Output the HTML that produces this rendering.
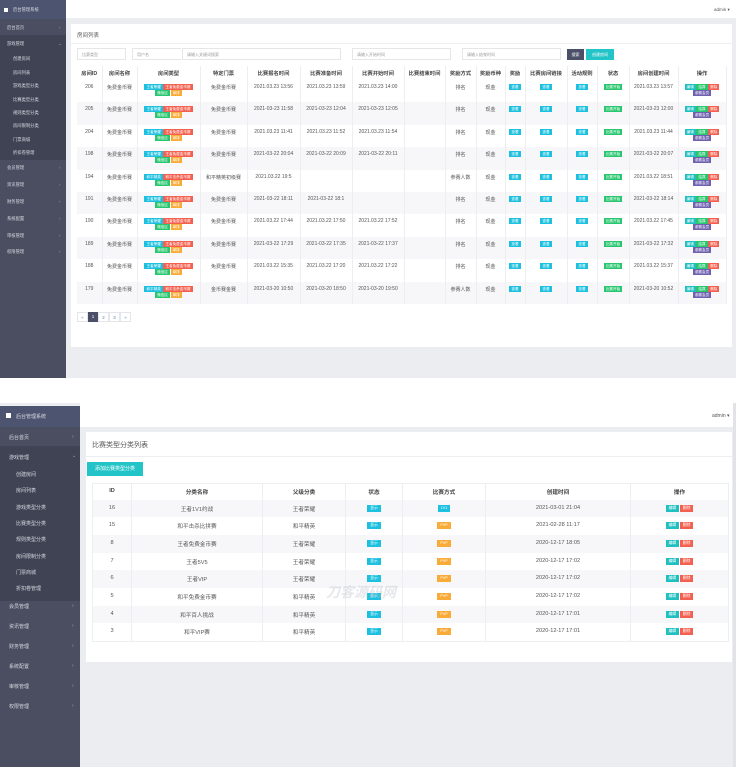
<!DOCTYPE html>
<html><head><meta charset="utf-8"><style>
*{margin:0;padding:0;box-sizing:border-box}
body{width:736px;height:767px;overflow:hidden;background:#fff;position:relative;font-family:"Liberation Sans","Noto Sans CJK SC",sans-serif;color:#555}
.abs{position:absolute}
.sb{background:#4a4e60;color:#d8dae2}
.sb div{position:absolute;white-space:nowrap}
.sub{background:#3f4354}
.arr{color:#aab}
table{border-collapse:collapse;table-layout:fixed;position:absolute}
td,th{text-align:center;vertical-align:top;border-right:1px solid #eceef2;white-space:nowrap;overflow:hidden}
th{color:#444;font-weight:bold}
.t1 td,.t1 th{font-size:5px;height:22.4px;padding-top:4px}
.t1 th{height:14px;padding-top:3px;font-size:5.3px}
.t1 tr:nth-child(odd) td{background:#f7f7f9}
.t1 tr:nth-child(even) td{background:#fff}
.tg{display:inline-block;font-size:3.6px;line-height:6px;height:6px;padding:0 2px;color:#fff;margin:0 .3px;vertical-align:top;font-weight:normal}
.c{background:#1ec0df}.r{background:#f4604f}.g{background:#28c76f}.o{background:#f9ab38}.p{background:#7060b0}.tl{background:#20c0c0}
.t2 td,.t2 th{font-size:5.6px;height:17.7px;padding-top:5px}
.t2 th{height:16px;padding-top:4px}
.t2 tr:nth-child(even) td{background:#f7f7f9}
.t2 tr:nth-child(odd) td{background:#fff}
.t2 .tg{font-size:3.8px;height:7px;line-height:7px;padding:0 3px}
.inp{position:absolute;height:12px;border:1px solid #e4e6ea;background:#fff;font-size:4px;color:#999;padding:3px 4px}
</style></head><body>

<!-- TOP SCREENSHOT -->
<div class="abs" style="left:0;top:0;width:736px;height:378px;background:#ecedf1"></div>
<div class="abs" style="left:66px;top:0;width:670px;height:18px;background:#fff"></div>
<div class="abs" style="left:714px;top:7px;font-size:4.5px;color:#555">admin ▾</div>
<div class="abs sb" style="left:0;top:0;width:66px;height:378px;font-size:4.3px">
 <div style="left:0;top:0;width:66px;height:19px;background:#4d5470"></div>
 <div style="left:4px;top:8px;width:4px;height:4px;background:#fff"></div>
 <div style="left:13px;top:7px">后台管理系统</div>
 <div style="left:7px;top:25px">后台首页</div><div class="arr" style="left:59px;top:25px">›</div>
 <div style="left:0;top:35px;width:66px;height:125px" class="sub"></div>
 <div style="left:7px;top:41px">游戏管理</div><div class="arr" style="left:58px;top:41px">⌄</div>
 <div style="left:13px;top:56px">创建房间</div>
 <div style="left:13px;top:70px">房间列表</div>
 <div style="left:13px;top:83px">游戏类型分类</div>
 <div style="left:13px;top:97px">比赛类型分类</div>
 <div style="left:13px;top:110px">规则类型分类</div>
 <div style="left:13px;top:123px">房间限制分类</div>
 <div style="left:13px;top:137px">门票商城</div>
 <div style="left:13px;top:150px">折扣卷管理</div>
 <div style="left:7px;top:165px">会员管理</div><div class="arr" style="left:59px;top:165px">›</div>
 <div style="left:7px;top:182px">资讯管理</div><div class="arr" style="left:59px;top:182px">›</div>
 <div style="left:7px;top:199px">财务管理</div><div class="arr" style="left:59px;top:199px">›</div>
 <div style="left:7px;top:216px">系统配置</div><div class="arr" style="left:59px;top:216px">›</div>
 <div style="left:7px;top:233px">审核管理</div><div class="arr" style="left:59px;top:233px">›</div>
 <div style="left:7px;top:249px">权限管理</div><div class="arr" style="left:59px;top:249px">›</div>
</div>
<div class="abs" style="left:71px;top:24px;width:661px;height:323px;background:#fff"></div>
<div class="abs" style="left:71px;top:43px;width:661px;height:1px;background:#eceef2"></div>
<div class="abs" style="left:77px;top:31px;font-size:5.5px;color:#555">房间列表</div>
<div class="inp" style="left:77px;top:48px;width:49px">比赛类型</div>
<div class="inp" style="left:132px;top:48px;width:49px;border-right:none">用户名</div>
<div class="inp" style="left:182px;top:48px;width:159px">请输入关键词搜索</div>
<div class="inp" style="left:352px;top:48px;width:99px">请输入开始时间</div>
<div class="inp" style="left:462px;top:48px;width:99px">请输入结束时间</div>
<div class="abs" style="left:567px;top:49px;width:17px;height:11px;background:#4b5068;color:#fff;font-size:4px;text-align:center;line-height:11px">搜索</div>
<div class="abs" style="left:586px;top:49px;width:28px;height:11px;background:#22c4c8;color:#fff;font-size:4px;text-align:center;line-height:11px">创建房间</div>

<table class="t1" style="left:77px;top:66px;width:649px">
<colgroup><col style="width:25px"><col style="width:35px"><col style="width:63px"><col style="width:47px"><col style="width:53px"><col style="width:52px"><col style="width:52px"><col style="width:41px"><col style="width:31px"><col style="width:29px"><col style="width:20px"><col style="width:42px"><col style="width:30px"><col style="width:32px"><col style="width:49px"><col style="width:48px"></colgroup>
<tr><th>房间ID</th><th>房间名称</th><th>房间类型</th><th>特定门票</th><th>比赛报名时间</th><th>比赛准备时间</th><th>比赛开始时间</th><th>比赛结束时间</th><th>奖励方式</th><th>奖励币种</th><th>奖励</th><th>比赛房间链接</th><th>活动规则</th><th>状态</th><th>房间创建时间</th><th>操作</th></tr>
<tr><td>206</td><td>免费金币赛</td><td><span class="tg c">王者荣耀</span><span class="tg r">王者免费金币赛</span><br><span class="tg g">微信区</span><span class="tg o">单排</span></td><td>免费金币赛</td><td>2021.03.23 13:56</td><td>2021.03.23 13:59</td><td>2021.03.23 14:00</td><td></td><td>排名</td><td>现金</td><td><span class="tg c">查看</span></td><td><span class="tg c">查看</span></td><td><span class="tg c">查看</span></td><td><span class="tg g">比赛开始</span></td><td>2021.03.23 13:57</td><td><span class="tg tl">编辑</span><span class="tg g">结算</span><span class="tg r">删除</span><br><span class="tg p">参赛会员</span></td></tr>
<tr><td>205</td><td>免费金币赛</td><td><span class="tg c">王者荣耀</span><span class="tg r">王者免费金币赛</span><br><span class="tg g">微信区</span><span class="tg o">单排</span></td><td>免费金币赛</td><td>2021-03-23 11:58</td><td>2021-03-23 12:04</td><td>2021-03-23 12:05</td><td></td><td>排名</td><td>现金</td><td><span class="tg c">查看</span></td><td><span class="tg c">查看</span></td><td><span class="tg c">查看</span></td><td><span class="tg g">比赛开始</span></td><td>2021-03-23 12:00</td><td><span class="tg tl">编辑</span><span class="tg g">结算</span><span class="tg r">删除</span><br><span class="tg p">参赛会员</span></td></tr>
<tr><td>204</td><td>免费金币赛</td><td><span class="tg c">王者荣耀</span><span class="tg r">王者免费金币赛</span><br><span class="tg g">微信区</span><span class="tg o">单排</span></td><td>免费金币赛</td><td>2021.03.23 11:41</td><td>2021.03.23 11:52</td><td>2021.03.23 11:54</td><td></td><td>排名</td><td>现金</td><td><span class="tg c">查看</span></td><td><span class="tg c">查看</span></td><td><span class="tg c">查看</span></td><td><span class="tg g">比赛开始</span></td><td>2021.03.23 11:44</td><td><span class="tg tl">编辑</span><span class="tg g">结算</span><span class="tg r">删除</span><br><span class="tg p">参赛会员</span></td></tr>
<tr><td>198</td><td>免费金币赛</td><td><span class="tg c">王者荣耀</span><span class="tg r">王者免费金币赛</span><br><span class="tg g">微信区</span><span class="tg o">单排</span></td><td>免费金币赛</td><td>2021-03-22 20:04</td><td>2021-03-22 20:09</td><td>2021-03-22 20:11</td><td></td><td>排名</td><td>现金</td><td><span class="tg c">查看</span></td><td><span class="tg c">查看</span></td><td><span class="tg c">查看</span></td><td><span class="tg g">比赛开始</span></td><td>2021-03-22 20:07</td><td><span class="tg tl">编辑</span><span class="tg g">结算</span><span class="tg r">删除</span><br><span class="tg p">参赛会员</span></td></tr>
<tr><td>194</td><td>免费金币赛</td><td><span class="tg c">和平精英</span><span class="tg r">和平击杀金币赛</span><br><span class="tg g">微信区</span><span class="tg o">单排</span></td><td>和平精英初级赛</td><td>2021.03.22 19:5</td><td></td><td></td><td></td><td>参赛人数</td><td>现金</td><td><span class="tg c">查看</span></td><td><span class="tg c">查看</span></td><td><span class="tg c">查看</span></td><td><span class="tg g">比赛开始</span></td><td>2021.03.22 18:51</td><td><span class="tg tl">编辑</span><span class="tg g">结算</span><span class="tg r">删除</span><br><span class="tg p">参赛会员</span></td></tr>
<tr><td>191</td><td>免费金币赛</td><td><span class="tg c">王者荣耀</span><span class="tg r">王者免费金币赛</span><br><span class="tg g">微信区</span><span class="tg o">单排</span></td><td>免费金币赛</td><td>2021-03-22 18:11</td><td>2021-03-22 18:1</td><td></td><td></td><td>排名</td><td>现金</td><td><span class="tg c">查看</span></td><td><span class="tg c">查看</span></td><td><span class="tg c">查看</span></td><td><span class="tg g">比赛开始</span></td><td>2021-03-22 18:14</td><td><span class="tg tl">编辑</span><span class="tg g">结算</span><span class="tg r">删除</span><br><span class="tg p">参赛会员</span></td></tr>
<tr><td>190</td><td>免费金币赛</td><td><span class="tg c">王者荣耀</span><span class="tg r">王者免费金币赛</span><br><span class="tg g">微信区</span><span class="tg o">单排</span></td><td>免费金币赛</td><td>2021.03.22 17:44</td><td>2021.03.22 17:50</td><td>2021.03.22 17:52</td><td></td><td>排名</td><td>现金</td><td><span class="tg c">查看</span></td><td><span class="tg c">查看</span></td><td><span class="tg c">查看</span></td><td><span class="tg g">比赛开始</span></td><td>2021.03.22 17:45</td><td><span class="tg tl">编辑</span><span class="tg g">结算</span><span class="tg r">删除</span><br><span class="tg p">参赛会员</span></td></tr>
<tr><td>189</td><td>免费金币赛</td><td><span class="tg c">王者荣耀</span><span class="tg r">王者免费金币赛</span><br><span class="tg g">微信区</span><span class="tg o">单排</span></td><td>免费金币赛</td><td>2021-03-22 17:29</td><td>2021-03-22 17:35</td><td>2021-03-22 17:37</td><td></td><td>排名</td><td>现金</td><td><span class="tg c">查看</span></td><td><span class="tg c">查看</span></td><td><span class="tg c">查看</span></td><td><span class="tg g">比赛开始</span></td><td>2021-03-22 17:32</td><td><span class="tg tl">编辑</span><span class="tg g">结算</span><span class="tg r">删除</span><br><span class="tg p">参赛会员</span></td></tr>
<tr><td>188</td><td>免费金币赛</td><td><span class="tg c">王者荣耀</span><span class="tg r">王者免费金币赛</span><br><span class="tg g">微信区</span><span class="tg o">单排</span></td><td>免费金币赛</td><td>2021.03.22 15:35</td><td>2021.03.22 17:20</td><td>2021.03.22 17:22</td><td></td><td>排名</td><td>现金</td><td><span class="tg c">查看</span></td><td><span class="tg c">查看</span></td><td><span class="tg c">查看</span></td><td><span class="tg g">比赛开始</span></td><td>2021.03.22 15:37</td><td><span class="tg tl">编辑</span><span class="tg g">结算</span><span class="tg r">删除</span><br><span class="tg p">参赛会员</span></td></tr>
<tr><td>179</td><td>免费金币赛</td><td><span class="tg c">和平精英</span><span class="tg r">和平击杀金币赛</span><br><span class="tg g">微信区</span><span class="tg o">单排</span></td><td>金币赛金赛</td><td>2021-03-20 10:50</td><td>2021-03-20 18:50</td><td>2021-03-20 19:50</td><td></td><td>参赛人数</td><td>现金</td><td><span class="tg c">查看</span></td><td><span class="tg c">查看</span></td><td><span class="tg c">查看</span></td><td><span class="tg g">比赛开始</span></td><td>2021-03-20 10:52</td><td><span class="tg tl">编辑</span><span class="tg g">结算</span><span class="tg r">删除</span><br><span class="tg p">参赛会员</span></td></tr>
</table>
<div class="abs" style="left:77px;top:312px;height:10px;display:flex;font-size:4.5px;line-height:9px;text-align:center">
 <div style="width:11px;border:1px solid #e4e6ea;color:#888">«</div>
 <div style="width:10px;background:#4b5068;color:#fff">1</div>
 <div style="width:11px;border:1px solid #e4e6ea;color:#58a">2</div>
 <div style="width:11px;border:1px solid #e4e6ea;color:#58a">3</div>
 <div style="width:11px;border:1px solid #e4e6ea;color:#58a">»</div>
</div>

<!-- BOTTOM SCREENSHOT -->
<div class="abs" style="left:0;top:403px;width:736px;height:364px;background:#ecedf1"></div>
<div class="abs" style="left:80px;top:403px;width:656px;height:24px;background:#fff"></div>
<div class="abs" style="left:712px;top:413px;font-size:5px;color:#555">admin ▾</div>
<div class="abs sb" style="left:0;top:406px;width:80px;height:361px;font-size:5px">
 <div style="left:0;top:0;width:80px;height:21px;background:#4d5470"></div>
 <div style="left:6px;top:7px;width:5px;height:5px;background:#fff"></div>
 <div style="left:16px;top:7px">后台管理系统</div>
 <div style="left:9px;top:28px">后台首页</div><div class="arr" style="left:72px;top:28px">›</div>
 <div class="sub" style="left:0;top:40px;width:80px;height:155px"></div>
 <div style="left:9px;top:48px">游戏管理</div><div class="arr" style="left:72px;top:47px">⌄</div>
 <div style="left:16px;top:65px">创建房间</div>
 <div style="left:16px;top:81px">房间列表</div>
 <div style="left:16px;top:98px">游戏类型分类</div>
 <div style="left:16px;top:114px">比赛类型分类</div>
 <div style="left:16px;top:130px">规则类型分类</div>
 <div style="left:16px;top:147px">房间限制分类</div>
 <div style="left:16px;top:163px">门票商城</div>
 <div style="left:16px;top:179px">折扣卷管理</div>
 <div style="left:9px;top:197px">会员管理</div><div class="arr" style="left:72px;top:197px">›</div>
 <div style="left:9px;top:217px">资讯管理</div><div class="arr" style="left:72px;top:217px">›</div>
 <div style="left:9px;top:237px">财务管理</div><div class="arr" style="left:72px;top:237px">›</div>
 <div style="left:9px;top:257px">系统配置</div><div class="arr" style="left:72px;top:257px">›</div>
 <div style="left:9px;top:277px">审核管理</div><div class="arr" style="left:72px;top:277px">›</div>
 <div style="left:9px;top:297px">权限管理</div><div class="arr" style="left:72px;top:297px">›</div>
</div>
<div class="abs" style="left:86px;top:432px;width:646px;height:230px;background:#fff"></div>
<div class="abs" style="left:86px;top:456px;width:646px;height:1px;background:#eceef2"></div>
<div class="abs" style="left:92px;top:440px;font-size:7px;color:#555">比赛类型分类列表</div>
<div class="abs" style="left:87px;top:462px;width:56px;height:14px;background:#22c4c8;color:#fff;font-size:5px;line-height:14px;text-align:center">添加比赛类型分类</div>
<table class="t2" style="left:92px;top:483px;width:636px;border:1px solid #eceef2">
<colgroup><col style="width:39px"><col style="width:131px"><col style="width:83px"><col style="width:57px"><col style="width:83px"><col style="width:145px"><col style="width:98px"></colgroup>
<tr><th>ID</th><th>分类名称</th><th>父级分类</th><th>状态</th><th>比赛方式</th><th>创建时间</th><th>操作</th></tr>
<tr><td>16</td><td>王者1V1约战</td><td>王者荣耀</td><td><span class="tg c">显示</span></td><td><span class="tg c">1V1</span></td><td>2021-03-01 21:04</td><td><span class="tg tl">编辑</span><span class="tg r">删除</span></td></tr>
<tr><td>15</td><td>和平击杀比拼赛</td><td>和平精英</td><td><span class="tg c">显示</span></td><td><span class="tg o">PVP</span></td><td>2021-02-28 11:17</td><td><span class="tg tl">编辑</span><span class="tg r">删除</span></td></tr>
<tr><td>8</td><td>王者免费金币赛</td><td>王者荣耀</td><td><span class="tg c">显示</span></td><td><span class="tg o">PVP</span></td><td>2020-12-17 18:05</td><td><span class="tg tl">编辑</span><span class="tg r">删除</span></td></tr>
<tr><td>7</td><td>王者5V5</td><td>王者荣耀</td><td><span class="tg c">显示</span></td><td><span class="tg o">PVP</span></td><td>2020-12-17 17:02</td><td><span class="tg tl">编辑</span><span class="tg r">删除</span></td></tr>
<tr><td>6</td><td>王者VIP</td><td>王者荣耀</td><td><span class="tg c">显示</span></td><td><span class="tg o">PVP</span></td><td>2020-12-17 17:02</td><td><span class="tg tl">编辑</span><span class="tg r">删除</span></td></tr>
<tr><td>5</td><td>和平免费金币赛</td><td>和平精英</td><td><span class="tg c">显示</span></td><td><span class="tg o">PVP</span></td><td>2020-12-17 17:02</td><td><span class="tg tl">编辑</span><span class="tg r">删除</span></td></tr>
<tr><td>4</td><td>和平百人挑战</td><td>和平精英</td><td><span class="tg c">显示</span></td><td><span class="tg o">PVP</span></td><td>2020-12-17 17:01</td><td><span class="tg tl">编辑</span><span class="tg r">删除</span></td></tr>
<tr><td>3</td><td>和平VIP赛</td><td>和平精英</td><td><span class="tg c">显示</span></td><td><span class="tg o">PVP</span></td><td>2020-12-17 17:01</td><td><span class="tg tl">编辑</span><span class="tg r">删除</span></td></tr>
</table>
<div class="abs" style="left:326px;top:582px;font-size:14px;font-weight:bold;font-style:italic;color:rgba(180,185,195,0.35)">刀客源码网</div>
<div class="abs" style="left:733px;top:403px;width:3px;height:364px;background:#e2e3e6"></div>
</body></html>
